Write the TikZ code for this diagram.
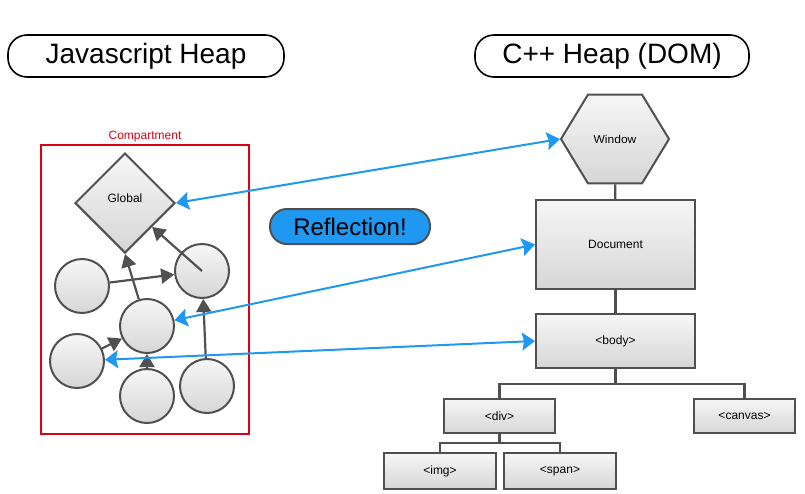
\documentclass[tikz,border=0pt]{standalone}
\usepackage{fontspec}
\setmainfont{Liberation Sans}
\usetikzlibrary{shapes.geometric,arrows.meta}

\definecolor{linkblue}{RGB}{30,152,240}
\definecolor{edgegray}{RGB}{80,80,80}
\definecolor{compred}{RGB}{220,0,20}

\tikzset{
  heapobj/.style={draw=edgegray, line width=2pt, top color=gray!7, bottom color=gray!32,
    font=\fontsize{12}{14}\selectfont},
  jsobj/.style={heapobj, circle, minimum size=54pt, inner sep=0pt},
  domobj/.style={heapobj, rectangle, inner sep=0pt},
  heaptitle/.style={draw=black, line width=1.6pt, rounded corners=19pt, minimum width=276pt,
    minimum height=42pt, font=\fontsize{28}{32}\selectfont},
  jsref/.style={draw=edgegray, line width=2.2pt, -{Triangle[length=13pt,width=15pt]}},
  domref/.style={draw=linkblue, line width=2pt,
    {Stealth[length=13pt,width=18pt,inset=2pt]}-{Stealth[length=13pt,width=18pt,inset=2pt]}},
  treeline/.style={draw=edgegray, line width=2.2pt}
}

\begin{document}
\begin{tikzpicture}[x=1pt,y=-1pt]
  \useasboundingbox (0,0) rectangle (805,493);

  % Headings
  \node[heaptitle] (jstitle) at (146,56) {Javascript Heap};
  \node[heaptitle, minimum width=274pt] (cpptitle) at (612,56) {C++ Heap (DOM)};

  % Compartment
  \node[draw=compred, line width=1.6pt, minimum width=208pt, minimum height=289pt] (compartment) at (145,289.5) {};
  \node[text=compred, font=\fontsize{12}{14}\selectfont, anchor=south, inner sep=2pt] (complabel) at (compartment.north) {Compartment};

  % Javascript objects
  \node[heapobj, diamond, minimum width=100pt, minimum height=100pt, inner sep=0pt] (global) at (125,203) {\raisebox{10pt}{Global}};
  \node[jsobj] (objleft) at (82,286) {};
  \node[jsobj] (objright) at (202,271) {};
  \node[jsobj] (objmid) at (147,326) {};
  \node[jsobj] (objlow) at (77,361) {};
  \node[jsobj] (objbottom) at (147,396) {};
  \node[jsobj] (objcorner) at (207,386) {};

  % References inside the heap
  \draw[jsref] (objleft) -- (objright);
  \draw[jsref] (objmid) -- (global.south);
  \draw[jsref] (objright.center) -- (global);
  \draw[jsref] (objlow) -- (objmid);
  \draw[jsref] (objbottom) -- (objmid);
  \draw[jsref] (objcorner) -- (objright);

  % Reflection badge
  \node[draw=edgegray, line width=2pt, fill=linkblue, rounded corners=17pt, minimum width=160pt,
    minimum height=35pt, font=\fontsize{24}{28}\selectfont] (reflection) at (350,226.5) {Reflection!};

  % DOM tree
  \node[heapobj, regular polygon, regular polygon sides=6, minimum size=108pt, inner sep=0pt, yscale=0.95] (window) at (615,139) {Window};
  \node[domobj, minimum width=159pt, minimum height=89pt] (document) at (615.5,244.5) {Document};
  \node[domobj, minimum width=159pt, minimum height=54pt] (body) at (615.5,341) {<body>};
  \node[domobj, minimum width=111pt, minimum height=34pt] (div) at (499.5,416) {<div>};
  \node[domobj, minimum width=101pt, minimum height=34pt] (canvas) at (744.5,416) {<canvas>};
  \node[domobj, minimum width=112pt, minimum height=36pt] (img) at (440,471) {<img>};
  \node[domobj, minimum width=112pt, minimum height=36pt] (span) at (560,471) {<span>};

  \coordinate (bodybus) at (615.5,384);
  \coordinate (divbus) at (499.5,443);
  \draw[treeline] (window) -- (document);
  \draw[treeline] (document) -- (body);
  \draw[treeline] (body) -- (bodybus);
  \draw[treeline] (div.north) -- (div.north |- bodybus) -- (canvas.north |- bodybus) -- (canvas.north);
  \draw[treeline] (div) -- (divbus);
  \draw[treeline] (img.north) -- (img.north |- divbus) -- (span.north |- divbus) -- (span.north);

  % Reflectors between the heaps
  \draw[domref] (global.east) -- (window.west);
  \draw[domref] (objmid) -- (document.west);
  \draw[domref] (objlow) -- (body.west);
\end{tikzpicture}
\end{document}
